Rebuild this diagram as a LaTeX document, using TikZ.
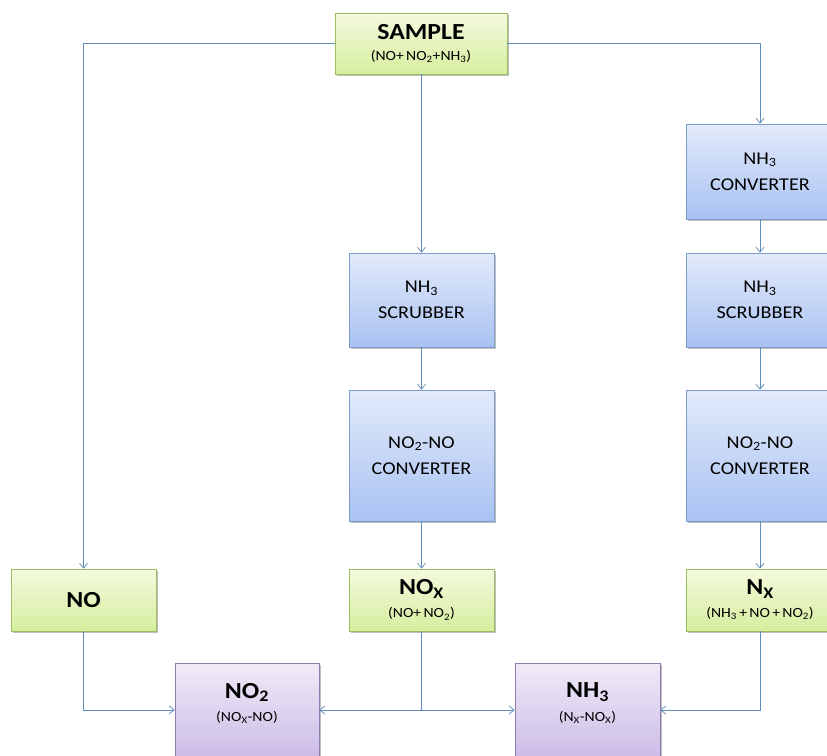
\documentclass[tikz,border=0pt]{standalone}
\usepackage{fontspec}
\setmainfont[FakeStretch=1.12]{Carlito}
\usetikzlibrary{arrows.meta,shadows}
\newcommand{\hd}[1]{{\bfseries\fontsize{23}{26}\selectfont #1}}
\newcommand{\sbt}[1]{{\fontsize{14}{16}\selectfont #1}}
\begin{document}
\begin{tikzpicture}[x=1pt,y=-1pt,
  box/.style={draw, line width=0.6pt, inner sep=2pt, align=center,
    drop shadow={shadow xshift=1.5pt, shadow yshift=-1.8pt, fill=black, opacity=0.25}},
  greenbox/.style={box, draw=gbd, top color=gbt, bottom color=gbb},
  bluebox/.style={box, draw=bbd, top color=bbt, bottom color=bbb, font=\fontsize{18}{26}\selectfont},
  purplebox/.style={box, draw=pbd, top color=pbt, bottom color=pbb},
  conn/.style={draw=lc, line width=0.7pt, -{Straight Barb[length=5pt,width=8pt]}},
  line/.style={draw=lc, line width=0.7pt}
]
\definecolor{gbt}{HTML}{F4FADF}
\definecolor{gbb}{HTML}{D6EE9E}
\definecolor{gbd}{HTML}{9DBB61}
\definecolor{bbt}{HTML}{E2EAFA}
\definecolor{bbb}{HTML}{A9C2F2}
\definecolor{bbd}{HTML}{7C9CCB}
\definecolor{pbt}{HTML}{F0EBF8}
\definecolor{pbb}{HTML}{C9B9E5}
\definecolor{pbd}{HTML}{8C7DAF}
\definecolor{lc}{HTML}{5F8CB8}
\useasboundingbox (0,0) rectangle (827,755);

\node[greenbox, minimum width=172, minimum height=61] (sample) at (421,43.5)
  {\hd{SAMPLE}\\[9pt]\sbt{(NO+\,NO\textsubscript{2}+NH\textsubscript{3})}};

\node[bluebox, minimum width=148, minimum height=95] (conv) at (760,171.5)
  {NH\textsubscript{3}\\CONVERTER};
\node[bluebox, minimum width=148, minimum height=94] (scrR) at (760,300)
  {NH\textsubscript{3}\\SCRUBBER};
\node[bluebox, minimum width=148, minimum height=131] (convR) at (760,455.5)
  {NO\textsubscript{2}-NO\\CONVERTER};

\node[bluebox, minimum width=145, minimum height=94] (scrM) at (421.5,300)
  {NH\textsubscript{3}\\SCRUBBER};
\node[bluebox, minimum width=145, minimum height=131] (convM) at (421.5,455.5)
  {NO\textsubscript{2}-NO\\CONVERTER};

\node[greenbox, minimum width=145, minimum height=62] (no) at (83.5,600)
  {\hd{NO}};
\node[greenbox, minimum width=145, minimum height=62] (nox) at (421.5,600)
  {\hd{NO\textsubscript{X}}\\[8pt]\sbt{(NO+\,NO\textsubscript{2})}};
\node[greenbox, minimum width=148, minimum height=62] (nx) at (760,600)
  {\hd{N\textsubscript{X}}\\[8pt]\sbt{(NH\textsubscript{3}\,+\,NO\,+\,NO\textsubscript{2})}};

\node[purplebox, minimum width=144, minimum height=100] (no2) at (247,713)
  {\hd{NO\textsubscript{2}}\\[8pt]\sbt{(NO\textsubscript{X}-NO)}\\[10pt]};
\node[purplebox, minimum width=145, minimum height=100] (nh3) at (587.5,713)
  {\hd{NH\textsubscript{3}}\\[8pt]\sbt{(N\textsubscript{X}-NO\textsubscript{X})}\\[10pt]};

\coordinate (j) at (421.5,710);

\draw[conn] (sample.west) -| (no.north);
\draw[conn] (sample.south -| scrM.north) -- (scrM.north);
\draw[conn] (sample.east) -| (conv.north);
\draw[conn] (conv) -- (scrR);
\draw[conn] (scrR) -- (convR);
\draw[conn] (convR) -- (nx);
\draw[conn] (scrM) -- (convM);
\draw[conn] (convM) -- (nox);
\draw[conn] (no.south) |- (no2.west |- j);
\draw[line] (nox.south) -- (j);
\draw[conn] (j) -- (no2.east |- j);
\draw[conn] (j) -- (nh3.west |- j);
\draw[conn] (nx.south) |- (nh3.east |- j);
\end{tikzpicture}
\end{document}
